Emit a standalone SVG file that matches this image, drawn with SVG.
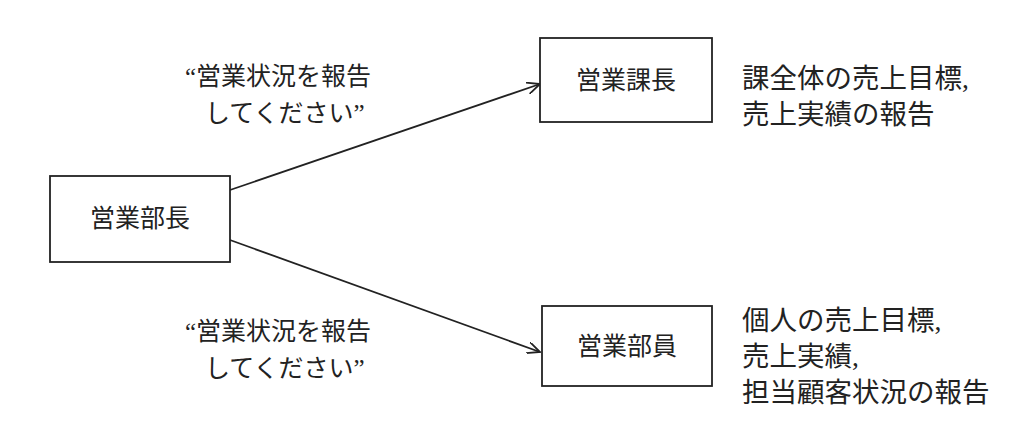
<svg xmlns="http://www.w3.org/2000/svg" width="1020" height="431" viewBox="0 0 1020 431">
<style>
text{font-family:"Liberation Serif","Noto Sans CJK JP",serif;font-size:25px;fill:#222}
.r{font-size:27.5px}
.b{fill:#fff;stroke:#222;stroke-width:1.8}
.c{stroke:#222;stroke-width:1.8;fill:none;marker-end:url(#a)}
</style>
<defs><marker id="a" markerWidth="14" markerHeight="12" refX="13" refY="6" orient="auto" markerUnits="userSpaceOnUse"><path d="M0,0L13,6L0,12" fill="none" stroke="#222" stroke-width="1.8"/></marker></defs>
<rect width="1020" height="431" fill="#fff"/>
<g id="connectors">
<path class="c" d="M230,190L540,84"/>
<path class="c" d="M230,240L540,352"/>
</g>
<g id="n1"><rect class="b" x="50" y="176" width="180" height="86"/><text x="140" y="227" text-anchor="middle">営業部長</text></g>
<g id="n2"><rect class="b" x="540" y="38" width="172" height="84"/><text x="626" y="89" text-anchor="middle">営業課長</text></g>
<g id="n3"><rect class="b" x="542" y="306" width="170" height="80"/><text x="627" y="355" text-anchor="middle">営業部員</text></g>
<g id="labels">
<text x="185" y="85">“営業状況を報告</text>
<text x="205" y="122">してください”</text>
<text x="185" y="340">“営業状況を報告</text>
<text x="205" y="377">してください”</text>
<text class="r" x="742" y="88">課全体の売上目標,</text>
<text class="r" x="742" y="124">売上実績の報告</text>
<text class="r" x="742" y="330">個人の売上目標,</text>
<text class="r" x="742" y="366">売上実績,</text>
<text class="r" x="742" y="402">担当顧客状況の報告</text>
</g>
</svg>
